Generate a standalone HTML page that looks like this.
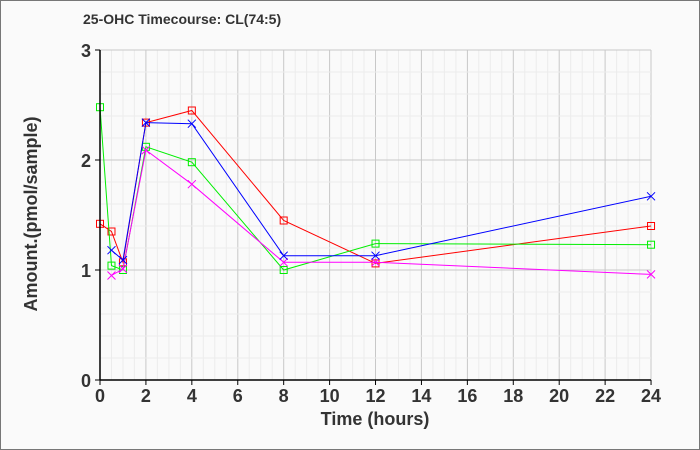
<!DOCTYPE html><html><head><style>body{margin:0;background:#fff}svg{display:block}text{font-family:"Liberation Sans",sans-serif;font-weight:bold;fill:#333}</style></head><body>
<svg width="700" height="450" viewBox="0 0 700 450">
<rect x="0.5" y="0.5" width="699" height="449" fill="#fafafa" stroke="#777"/>
<text x="83" y="24" font-size="14" fill="#222">25-OHC Timecourse: CL(74:5)</text>
<g id="grid"></g>
<g id="series"></g>
<line x1="100" y1="50" x2="100" y2="380" stroke="#000" stroke-width="1.5"/>
<line x1="100" y1="380" x2="651" y2="380" stroke="#000" stroke-width="1.5"/>
<g id="ticks"></g>
<text x="375" y="425" font-size="18" text-anchor="middle">Time (hours)</text>
<text transform="translate(37,214) rotate(-90)" font-size="18" text-anchor="middle">Amount.(pmol/sample)</text>
</svg>
<script>
const X=t=>100+t*22.96,Y=v=>380-v*110,ns="http://www.w3.org/2000/svg";
function el(p,n,a,txt){const e=document.createElementNS(ns,n);for(const k in a)e.setAttribute(k,a[k]);if(txt!=null)e.textContent=txt;document.getElementById(p).appendChild(e);return e}
for(let t=0.5;t<=24;t+=0.5){const x=X(t).toFixed(1),maj=t%2==0;el('grid','line',{x1:x,x2:x,y1:50,y2:380,stroke:maj?'#c8c8c8':'#ececec'});}
for(let v=0.2;v<=3.01;v+=0.2){const y=Y(v).toFixed(1),maj=Math.abs(v-Math.round(v))<0.01;el('grid','line',{x1:100,x2:651,y1:y,y2:y,stroke:maj?'#c8c8c8':'#ececec'});}
for(let t=0;t<=24;t+=2){el('ticks','line',{x1:X(t),x2:X(t),y1:380,y2:385,stroke:'#000'});el('ticks','text',{x:X(t),y:402,'font-size':18,'text-anchor':'middle'},t);}
for(let v=0;v<=3;v++){el('ticks','line',{x1:95,x2:100,y1:Y(v),y2:Y(v),stroke:'#000'});el('ticks','text',{x:91,y:Y(v)+7,'font-size':18,'text-anchor':'end'},v);}
const S=[
['#ff0000','s',[[0,1.42],[0.5,1.35],[1,1.07],[2,2.34],[4,2.45],[8,1.45],[12,1.06],[24,1.40]]],
['#00ee00','s',[[0,2.48],[0.5,1.04],[1,1.00],[2,2.12],[4,1.98],[8,1.00],[12,1.24],[24,1.23]]],
['#ff00ff','x',[[0.5,0.95],[1,1.01],[2,2.09],[4,1.78],[8,1.07],[12,1.07],[24,0.96]]],
['#0000ff','x',[[0.5,1.18],[1,1.09],[2,2.34],[4,2.33],[8,1.13],[12,1.13],[24,1.67]]]];
for(const [c,m,d] of S){el('series','polyline',{points:d.map(p=>X(p[0])+','+Y(p[1])).join(' '),fill:'none',stroke:c,'stroke-width':1});
for(const p of d){const x=X(p[0]),y=Y(p[1]);if(m=='s')el('series','rect',{x:x-3.5,y:y-3.5,width:7,height:7,fill:'none',stroke:c});else el('series','path',{d:`M${x-4} ${y-4}L${x+4} ${y+4}M${x-4} ${y+4}L${x+4} ${y-4}`,stroke:c});}}
</script>
</body></html>
